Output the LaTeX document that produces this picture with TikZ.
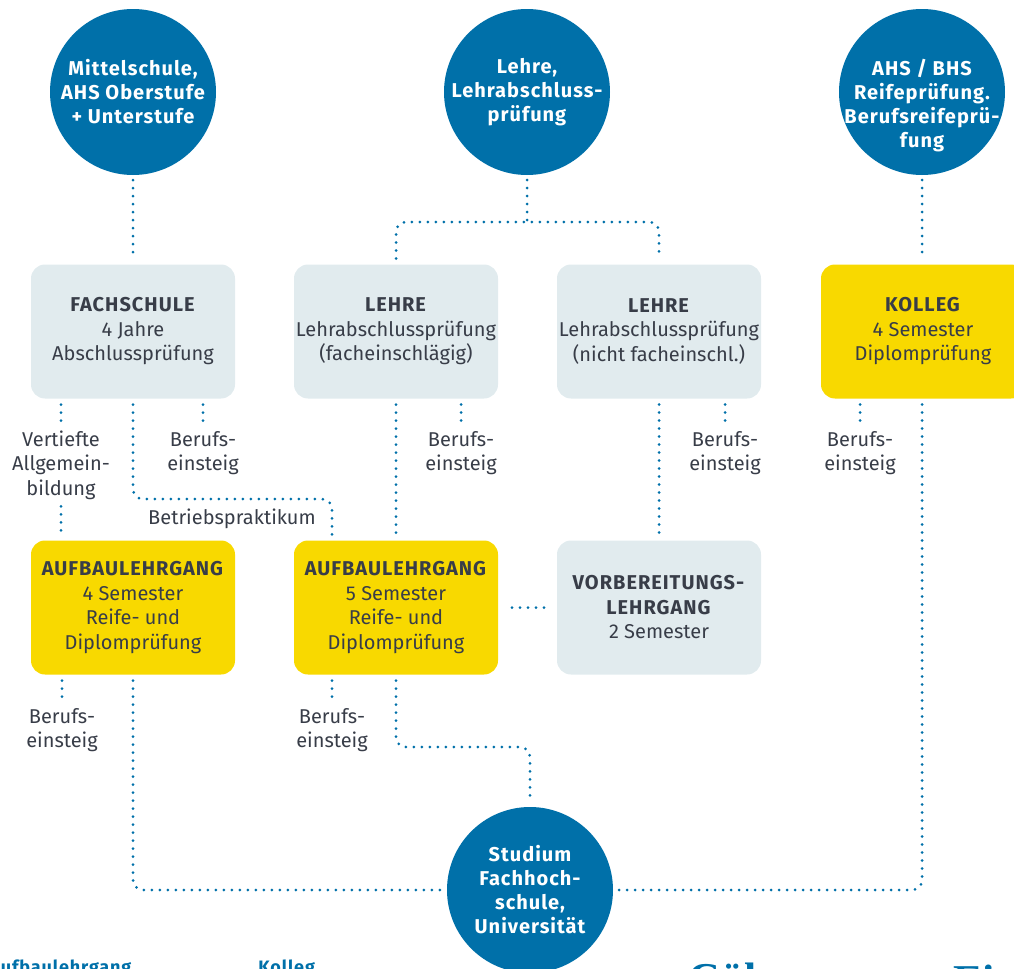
\documentclass[tikz,border=0pt]{standalone}
\usepackage{fontspec}
\setmainfont{Fira Sans}[BoldFeatures={LetterSpace=5}]
\newfontfamily\titelfont{Liberation Serif}
\definecolor{blau}{RGB}{0,112,169}
\definecolor{grau}{RGB}{225,235,238}
\definecolor{gelb}{RGB}{248,217,0}
\definecolor{schrift}{RGB}{56,61,72}

\begin{document}
\begin{tikzpicture}[x=0.5pt,y=-0.5pt,
  every node/.style={align=center,text=schrift,font=\fontsize{10}{12.25}\selectfont},
  kreis/.style={circle,fill=blau,text=white,minimum size=83pt,inner sep=0pt,outer sep=2.5pt,font=\fontsize{10}{12}\selectfont\bfseries},
  kasten/.style={rectangle,rounded corners=7pt,minimum width=102pt,minimum height=67pt,inner sep=0pt,outer sep=3pt},
  punkte/.style={blau,line width=1.5pt,line cap=round,dash pattern=on 0pt off 4pt,rounded corners=5pt},
  rest/.style={anchor=base west,inner sep=0pt,text=blau}]
  \useasboundingbox (0,0) rectangle (1014,969);
  \clip (0,0) rectangle (1014,969);
  % Zugang
  \node[kreis] (M) at (133,92) {Mittelschule,\\AHS Oberstufe\\+ Unterstufe};
  \node[kreis] (L) at (527,92) {Lehre,\\Lehrabschluss-\\prüfung};
  \node[kreis] (R) at (922,92) {};
  \node[kreis,fill=none] (RT) at ([yshift=-7pt]R.center) {AHS / BHS\\Reifeprüfung.\\Berufsreifeprü-\\fung};
  % Schulen
  \node[kasten,fill=grau] (F) at (133,331.5) {\textbf{FACHSCHULE}\\4 Jahre\\Abschlussprüfung};
  \node[kasten,fill=grau] (LA) at (396,331.5) {\textbf{LEHRE}\\Lehrabschlussprüfung\\(facheinschlägig)};
  \node[kasten,fill=grau] (LB) at (659,331.5) {\textbf{LEHRE}\\Lehrabschlussprüfung\\(nicht facheinschl.)};
  \node[kasten,fill=gelb] (K) at (923,331.5) {\textbf{KOLLEG}\\4 Semester\\Diplomprüfung};
  \node[kasten,fill=gelb] (AA) at (133,607.5) {\textbf{AUFBAULEHRGANG}\\4 Semester\\Reife- und\\Diplomprüfung};
  \node[kasten,fill=gelb] (AB) at (396,607.5) {\textbf{AUFBAULEHRGANG}\\5 Semester\\Reife- und\\Diplomprüfung};
  \node[kasten,fill=grau] (V) at (659,607.5) {\textbf{VORBEREITUNGS-}\\\textbf{LEHRGANG}\\2 Semester};
  \node[kreis] (S) at (530,890) {Studium\\Fachhoch-\\schule,\\Universität};
  % Beschriftungen
  \node (VA) at (61,465) {Vertiefte\\Allgemein-\\bildung};
  \node (B1) at (203,453) {Berufs-\\einsteig};
  \node (B2) at (461,453) {Berufs-\\einsteig};
  \node (B3) at (725,453) {Berufs-\\einsteig};
  \node (B4) at (860,453) {Berufs-\\einsteig};
  \node (B5) at (62,730) {Berufs-\\einsteig};
  \node (B6) at (332,730) {Berufs-\\einsteig};
  \node (BP) at (232,519) {Betriebspraktikum};
  \coordinate (G) at (527,222);
  \coordinate (P) at (332,499);
  \coordinate (Q) at (460,747);
  % Verbindungen
  \draw[punkte] (M) -- (F);
  \draw[punkte] (L) -- (G);
  \draw[punkte] (LA.north) |- (G) -| (LB.north);
  \draw[punkte] (R) -- (R |- K.north);
  \draw[punkte] (F.south -| VA) -- (VA);
  \draw[punkte] (VA) -- (VA |- AA.north);
  \draw[punkte] (F.south -| B1) -- (B1);
  \draw[punkte] (LA.south -| B2) -- (B2);
  \draw[punkte] (LB.south -| B3) -- (B3);
  \draw[punkte] (K.south -| B4) -- (B4);
  \draw[punkte] (F.south) |- (P) -- (P |- AB.north);
  \draw[punkte] (LA) -- (AB);
  \draw[punkte] (LB) -- (V);
  \draw[punkte] ([xshift=4pt]AB.east) -- ([xshift=-1.5pt]V.west);
  \draw[punkte] (K.south -| R) |- (S);
  \draw[punkte] (AA.south) |- (S);
  \draw[punkte] (AA.south -| B5) -- (B5);
  \draw[punkte] (AB.south -| B6) -- (B6);
  \draw[punkte] (AB.south) |- (Q) -| (S);
  % angeschnittene Texte unten
  \node[rest,font=\fontsize{9}{11}\selectfont\bfseries] (TA) at (-11,973) {Aufbaulehrgang};
  \node[rest,font=\fontsize{9}{11}\selectfont\bfseries] (TK) at (258,973) {Kolleg};
  \node[rest,font=\titelfont\bfseries\fontsize{22}{22}\selectfont] (TC) at (688,993) {Cül};
  \node[rest,font=\titelfont\bfseries\fontsize{22}{22}\selectfont] (TE) at (953,995) {Ei};
\end{tikzpicture}
\end{document}
